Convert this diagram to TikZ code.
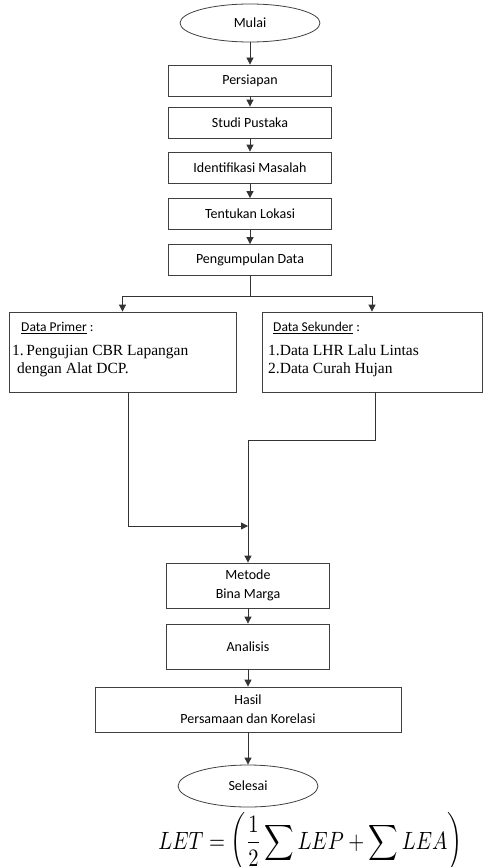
\documentclass[tikz,border=0pt]{standalone}
\usepackage{amsmath,amssymb}
\usepackage{fontspec}
\setmainfont{Liberation Serif}
\newfontfamily\carlito{Carlito}
\usetikzlibrary{arrows.meta,positioning,shapes.geometric}

\begin{document}
\begin{tikzpicture}[x=1pt,y=-1pt,
  box/.style={draw=black!75, line width=0.8pt, minimum width=163pt, minimum height=31pt,
    inner sep=0pt, align=center, font=\carlito\fontsize{14}{19}\selectfont},
  term/.style={ellipse, draw=black!75, line width=0.8pt, minimum width=140pt,
    minimum height=38pt, inner sep=0pt, font=\carlito\fontsize{14}{17}\selectfont},
  databox/.style={draw=black!75, line width=0.8pt, minimum height=80pt, inner sep=0pt},
  hd/.style={anchor=base west, inner sep=0pt, font=\carlito\fontsize{13.5}{16}\selectfont},
  item/.style={anchor=base west, inner sep=0pt, font=\fontsize{15.5}{18}\selectfont},
  ln/.style={draw=black!80, line width=0.8pt},
  arr/.style={ln, -{Triangle[width=7pt,length=7pt]}}]
\useasboundingbox (0,0) rectangle (483,867);

% main chain
\node[term] (mulai) at (250,23) {Mulai};
\node[box] (persiapan) at (250,80.5) {Persiapan};
\node[box] (studi) at (250,122.5) {Studi Pustaka};
\node[box] (identifikasi) at (250,167.5) {Identifikasi Masalah};
\node[box] (lokasi) at (250,214) {Tentukan Lokasi};
\node[box] (pengumpulan) at (250,260) {Pengumpulan Data};
\draw[arr] (mulai) -- (persiapan);
\draw[arr] (persiapan) -- (studi);
\draw[arr] (studi) -- (identifikasi);
\draw[arr] (identifikasi) -- (lokasi);
\draw[arr] (lokasi) -- (pengumpulan);

% data boxes
\node[databox, minimum width=227pt] (primer) at (122.5,352) {};
\node[databox, minimum width=220pt] (sekunder) at (372,352) {};
\node[hd] (primerhd) at (21,331) {\underline{Data Primer} :};
\node[item] (primer1) at (12,355) {1.\,Pengujian CBR Lapangan};
\node[item] (primer2) at (17,373) {dengan Alat DCP.};
\node[hd] (sekunderhd) at (273,331) {\underline{Data Sekunder} :};
\node[item] (sekunder1) at (268,355) {1.Data LHR Lalu Lintas};
\node[item] (sekunder2) at (268,373) {2.Data Curah Hujan};

\draw[ln] (pengumpulan.south) -- ++(0,20.5) coordinate (split);
\draw[arr] (split) -| (primer.north);
\draw[arr] (split) -| (sekunder.north);

% merge
\coordinate (bend) at (248,440);
\coordinate (join) at (248,526);
\node[box, minimum height=45pt] (metode) at (248,585.5) {Metode\\Bina Marga};
\node[box, minimum height=45pt] (analisis) at (248,646.5) {Analisis};
\node[box, minimum height=45pt, minimum width=306pt] (hasil) at (248,709.5) {Hasil\\Persamaan dan Korelasi};
\node[term, minimum height=42pt] (selesai) at (248,786) {Selesai};
\draw[arr] ([xshift=5.5pt]primer.south) |- (join);
\draw[ln] ([xshift=3pt]sekunder.south) |- (bend);
\draw[arr] (bend) -- (metode.north);
\draw[arr] (metode) -- (analisis);
\draw[arr] (analisis) -- (hasil);
\draw[arr] (hasil) -- (selesai);

\node[anchor=base west, inner sep=0pt, xscale=2.05, yscale=2.5] (rumus) at (158,849)
  {$\displaystyle LET=\left(\frac{1}{2}\sum LEP+\sum LEA\right)$};
\end{tikzpicture}
\end{document}
